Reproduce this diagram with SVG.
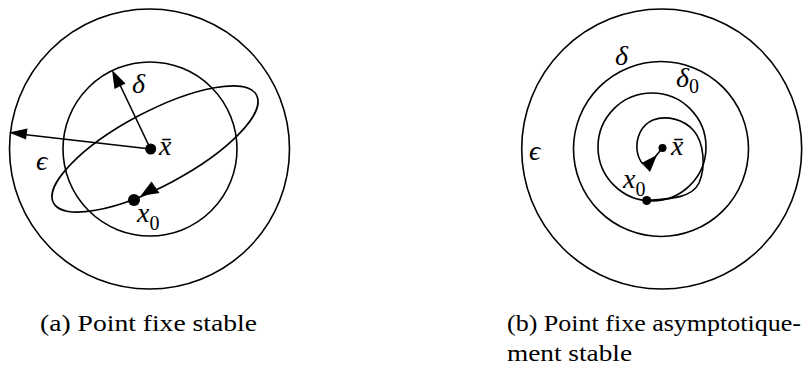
<svg xmlns="http://www.w3.org/2000/svg" width="811" height="369" viewBox="0 0 811 369">
<style>
.c{fill:none;stroke:#000;stroke-width:1.6}
.l{fill:none;stroke:#000;stroke-width:1.6}
.h{fill:#000;stroke:none}
.m{font-style:italic;font-size:28px;fill:#000}
.s{font-size:20px;fill:#000}
.cap{font-size:23px;fill:#000}
</style>
<rect width="811" height="369" fill="#fff"/>
<g id="fig-a" font-family="'Liberation Serif', 'Times New Roman', Times, 'Noto Serif', 'DejaVu Serif', serif">
  <g id="a-eps-circle"><circle class="c" cx="149.5" cy="149" r="140"/></g>
  <g id="a-delta-circle"><circle class="c" cx="150" cy="149" r="87"/></g>
  <g id="a-orbit"><ellipse class="c" cx="155" cy="149" rx="115" ry="37" transform="rotate(-28 155 149)"/></g>
  <g id="a-connectors">
    <line class="l" x1="150.5" y1="149" x2="24" y2="134.5"/>
    <polygon class="h" points="9,132.5 26,139.5 27.5,128.5"/>
    <line class="l" x1="150.5" y1="149" x2="120" y2="85"/>
    <polygon class="h" points="112,70 114.5,89 125.5,83.5"/>
    <polygon class="h" points="140.5,196 151.5,181.5 159.5,193"/>
  </g>
  <g id="a-xbar"><circle class="h" cx="150.7" cy="149" r="5.5"/>
    <text class="m" x="159" y="155">x̄</text></g>
  <g id="a-x0"><circle class="h" cx="134" cy="200" r="6"/>
    <text class="m" x="137" y="222">x<tspan class="s" font-style="normal" dy="8">0</tspan></text></g>
  <g id="a-delta"><text class="m" x="132" y="93">δ</text></g>
  <g id="a-eps"><text class="m" x="36" y="170">ϵ</text></g>
</g>
<g id="fig-b" font-family="'Liberation Serif', 'Times New Roman', Times, 'Noto Serif', 'DejaVu Serif', serif">
  <g id="b-eps-circle"><circle class="c" cx="661.7" cy="149" r="140"/></g>
  <g id="b-delta-circle"><circle class="c" cx="661" cy="149" r="87.5"/></g>
  <g id="b-delta0-circle"><circle class="c" cx="652" cy="147" r="54"/></g>
  <g id="b-connectors">
    <path class="l" d="M646.7,200.5 C670,199 692,198 699,183 C706,167 704,143 694,131 C684,119 666,115 653,120 C641,125 636,138 637,150 C638,157 640,161 643,164"/>
    <polygon class="h" points="641.5,163 650,172 657,155"/>
    <line class="l" x1="655" y1="157" x2="662.5" y2="148"/>
  </g>
  <g id="b-xbar"><circle class="h" cx="662.5" cy="148" r="4"/>
    <text class="m" x="671" y="155">x̄</text></g>
  <g id="b-x0"><circle class="h" cx="646.7" cy="200.5" r="4.5"/>
    <text class="m" x="623" y="188">x<tspan class="s" font-style="normal" dy="8">0</tspan></text></g>
  <g id="b-delta"><text class="m" x="615" y="65">δ</text></g>
  <g id="b-delta0"><text class="m" x="676" y="87">δ<tspan class="s" font-style="normal" dy="6">0</tspan></text></g>
  <g id="b-eps"><text class="m" x="529" y="160">ϵ</text></g>
</g>
<g id="captions" font-family="'Liberation Serif', 'Times New Roman', Times, 'Noto Serif', 'DejaVu Serif', serif">
  <text class="cap" x="40" y="331" textLength="217" lengthAdjust="spacingAndGlyphs">(a)  Point fixe stable</text>
  <text class="cap" x="507" y="331" textLength="294" lengthAdjust="spacingAndGlyphs">(b)  Point fixe asymptotique-</text>
  <text class="cap" x="507" y="361" textLength="125" lengthAdjust="spacingAndGlyphs">ment stable</text>
</g>
</svg>
